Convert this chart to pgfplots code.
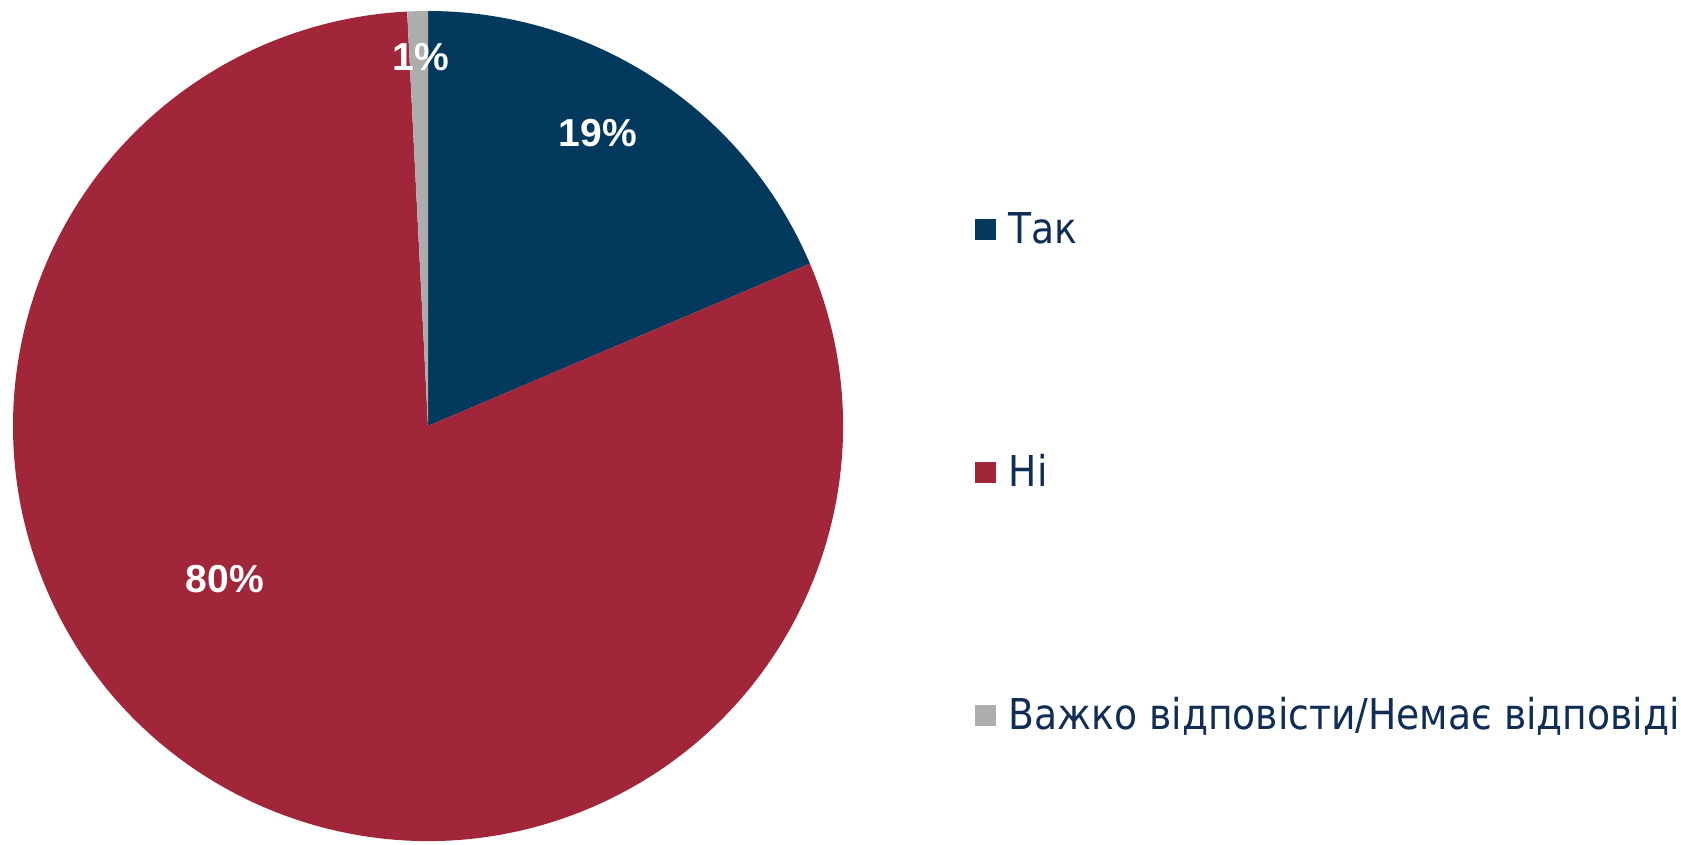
\documentclass[border=0pt]{standalone}
\usepackage{pgfplots}
\pgfplotsset{compat=1.18}
\usepackage{pgfplotstable}
\usepackage{fontspec}
\setmainfont{Liberation Sans}
\newfontfamily\legfont[FakeStretch=0.887]{DejaVu Sans}
\definecolor{cTak}{HTML}{04395E}
\definecolor{cNi}{HTML}{A2263A}
\definecolor{cNA}{HTML}{ADADAD}
\definecolor{ctext}{HTML}{0F2D55}

\pgfplotstableread{
value
18.6
80.6
0.8
}\piedata

\begin{document}%
\begin{tikzpicture}
\pgfplotstablegetelem{0}{value}\of\piedata \let\vA\pgfplotsretval
\pgfplotstablegetelem{1}{value}\of\piedata \let\vB\pgfplotsretval
\pgfmathsetmacro\aA{90-3.6*\vA}
\pgfmathsetmacro\aB{\aA-3.6*\vB}
\def\R{124.5pt}
\begin{axis}[
  width=504.3pt, height=253.2pt, scale only axis,
  xmin=0, xmax=1681, ymin=0, ymax=844,
  hide axis, clip=false,
  legend style={at={(axis cs:974,369)}, anchor=west, draw=none, fill=none,
    font=\legfont\fontsize{12.75}{15}\selectfont, text=ctext,
    row sep=59.9pt, column sep=3.9pt, inner sep=0pt,
    nodes={inner sep=0pt, text height=10pt, text depth=3pt}},
  legend cell align=left,
  legend image code/.code={\fill[#1] (0pt,-2.45pt) rectangle (6.3pt,3.85pt);},
]
\addlegendimage{fill=cTak, draw=none}
\addlegendentry{Так}
\addlegendimage{fill=cNi, draw=none}
\addlegendentry{Ні}
\addlegendimage{fill=cNA, draw=none}
\addlegendentry{Важко відповісти/Немає відповіді}

\fill[cTak] (axis cs:428,418) -- ++(90:\R) arc[start angle=90, end angle=\aA, radius=\R] -- cycle;
\fill[cNi] (axis cs:428,418) -- ++(\aA:\R) arc[start angle=\aA, end angle=\aB, radius=\R] -- cycle;
\fill[cNA] (axis cs:428,418) -- ++(\aB:\R) arc[start angle=\aB, end angle=-270, radius=\R] -- cycle;

\node[white, font=\bfseries\fontsize{11.7}{14}\selectfont, inner sep=0pt] at (axis cs:598,711) {19\%};
\node[white, font=\bfseries\fontsize{11.7}{14}\selectfont, inner sep=0pt] at (axis cs:225,265) {80\%};
\node[white, font=\bfseries\fontsize{11.7}{14}\selectfont, inner sep=0pt] at (axis cs:421,787) {1\%};
\coordinate (BBsw) at (axis cs:0,0);
\coordinate (BBne) at (axis cs:1681,844);
\end{axis}
\pgfresetboundingbox
\useasboundingbox (BBsw) rectangle (BBne);
\end{tikzpicture}%
\end{document}
